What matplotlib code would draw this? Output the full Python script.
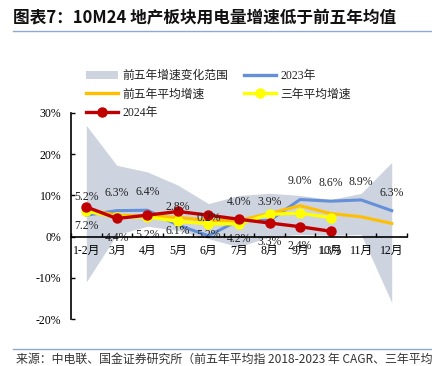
import matplotlib
matplotlib.use("Agg")
import matplotlib.pyplot as plt
import numpy as np
from matplotlib.patches import Patch
from matplotlib.lines import Line2D
from matplotlib.ticker import FixedLocator, FuncFormatter

plt.rcParams['font.family'] = ['Liberation Serif', 'Noto Sans CJK SC', 'DejaVu Sans']

months = ["1-2月", "3月", "4月", "5月", "6月", "7月", "8月", "9月", "10月", "11月", "12月"]
range_upper = [27.0, 17.3, 15.7, 12.5, 8.0, 10.0, 10.5, 10.0, 9.0, 10.5, 18.0]
range_lower = [-11.0, 0.5, 2.5, 1.5, -0.5, -2.5, 0.0, 0.5, 0.3, 0.5, -16.0]
y2023 = [5.2, 6.3, 6.4, 2.8, 0.2, 4.0, 3.9, 9.0, 8.6, 8.9, 6.3]
avg5 = [6.6, 5.2, 5.0, 4.7, 3.9, 3.9, 5.6, 7.5, 5.6, 4.8, 3.2]
avg3 = [6.2, 4.7, 4.8, 3.7, 3.1, 3.1, 5.4, 5.7, 4.6]
y2024 = [7.2, 4.4, 5.2, 6.1, 5.2, 4.2, 3.3, 2.4, 1.3]
yticks = [-20, -10, 0, 10, 20, 30]

W, H = 432, 366
fig = plt.figure(figsize=(W / 100, H / 100), dpi=100)
ax = fig.add_axes([71 / W, 1 - 319 / H, 336 / W, (319 - 113) / H])

x = np.arange(len(months))
x3 = np.arange(len(avg3))
x24 = np.arange(len(y2024))

c_band = "#CDD3DF"
c_blue = "#6490D8"
c_orange = "#FFBF00"
c_yellow = "#FFFF00"
c_red = "#C00000"

ax.fill_between(x, range_lower, range_upper, color=c_band, lw=0, zorder=1)
ax.plot(x, y2023, color=c_blue, lw=2.2, zorder=3)
ax.plot(x, avg5, color=c_orange, lw=2.2, zorder=4)
ax.plot(x3, avg3, color=c_yellow, lw=2.4, marker='o', ms=6.5, zorder=5)
ax.plot(x24, y2024, color=c_red, lw=2.4, marker='o', ms=6.5, zorder=6)

for xi, v in zip(x, y2023):
    ax.annotate(f"{v:.1f}%", (xi, v), xytext=(0, 13), textcoords='offset points',
                ha='center', va='center', fontsize=8.5, color='#222222', zorder=7)
for xi, v in zip(x24, y2024):
    ax.annotate(f"{v:.1f}%", (xi, v), xytext=(0, -14), textcoords='offset points',
                ha='center', va='center', fontsize=8.5, color='#222222', zorder=7)

ax.set_xlim(-0.5, len(months) - 0.5)
ax.set_ylim(-20, 30)
ax.set_yticks(yticks)
ax.yaxis.set_major_formatter(FuncFormatter(lambda v, p: f"{v:.0f}%"))
ax.tick_params(axis='y', direction='in', length=3, width=1, pad=7, labelsize=8.5, colors='black')

ax.set_xticks(x)
ax.set_xticklabels(months)
ax.xaxis.set_minor_locator(FixedLocator(np.arange(-0.5, len(months), 1.0)))
ax.tick_params(axis='x', which='major', length=0, pad=6, labelsize=8.5)
ax.tick_params(axis='x', which='minor', direction='in', length=3, width=1)

ax.spines['top'].set_visible(False)
ax.spines['right'].set_visible(False)
ax.spines['bottom'].set_position(('data', 0))
ax.spines['bottom'].set_zorder(8)
ax.spines['left'].set_linewidth(1.2)
ax.spines['bottom'].set_linewidth(1.2)
ax.patch.set_alpha(0)

handles = [
    Patch(facecolor=c_band, edgecolor='none'),
    Line2D([], [], color=c_orange, lw=2.4),
    Line2D([], [], color=c_red, lw=2.4, marker='o', ms=6.5),
    Line2D([], [], color=c_blue, lw=2.4),
    Line2D([], [], color=c_yellow, lw=2.4, marker='o', ms=6.5),
]
labels = ["前五年增速变化范围", "前五年平均增速", "2024年", "2023年", "三年平均增速"]
leg = fig.legend(handles, labels, ncol=2, loc='upper left',
                 bbox_to_anchor=(86 / W, 1 - 70 / H), frameon=False,
                 fontsize=8.5, handlelength=2.7, handleheight=0.7,
                 handletextpad=0.35, columnspacing=1.4, labelspacing=0.55,
                 borderpad=0, borderaxespad=0)
for t in leg.get_texts():
    t.set_family(['Liberation Serif', 'Noto Sans CJK SC'])
    t.set_color('#222222')

fig.text(13 / W, 1 - 18 / H, "图表7：10M24 地产板块用电量增速低于前五年均值",
         fontsize=12, fontweight='bold', fontstyle='italic',
         family=['Noto Sans CJK SC', 'DejaVu Sans'], ha='left', va='center', color='#111111')
fig.add_artist(Line2D([13 / W, 1], [1 - 31 / H, 1 - 31 / H], color='#8FAACC', lw=1.0))
fig.add_artist(Line2D([13 / W, 1], [1 - 348.5 / H, 1 - 348.5 / H], color='#8FAACC', lw=1.0))
fig.text(16 / W, 1 - 359 / H, "来源：中电联、国金证券研究所（前五年平均指 2018-2023 年 CAGR、三年平均",
         fontsize=8.6, family=['Noto Sans CJK SC', 'DejaVu Sans'], ha='left', va='center', color='#333333')

fig.savefig("out.png", dpi=100)
